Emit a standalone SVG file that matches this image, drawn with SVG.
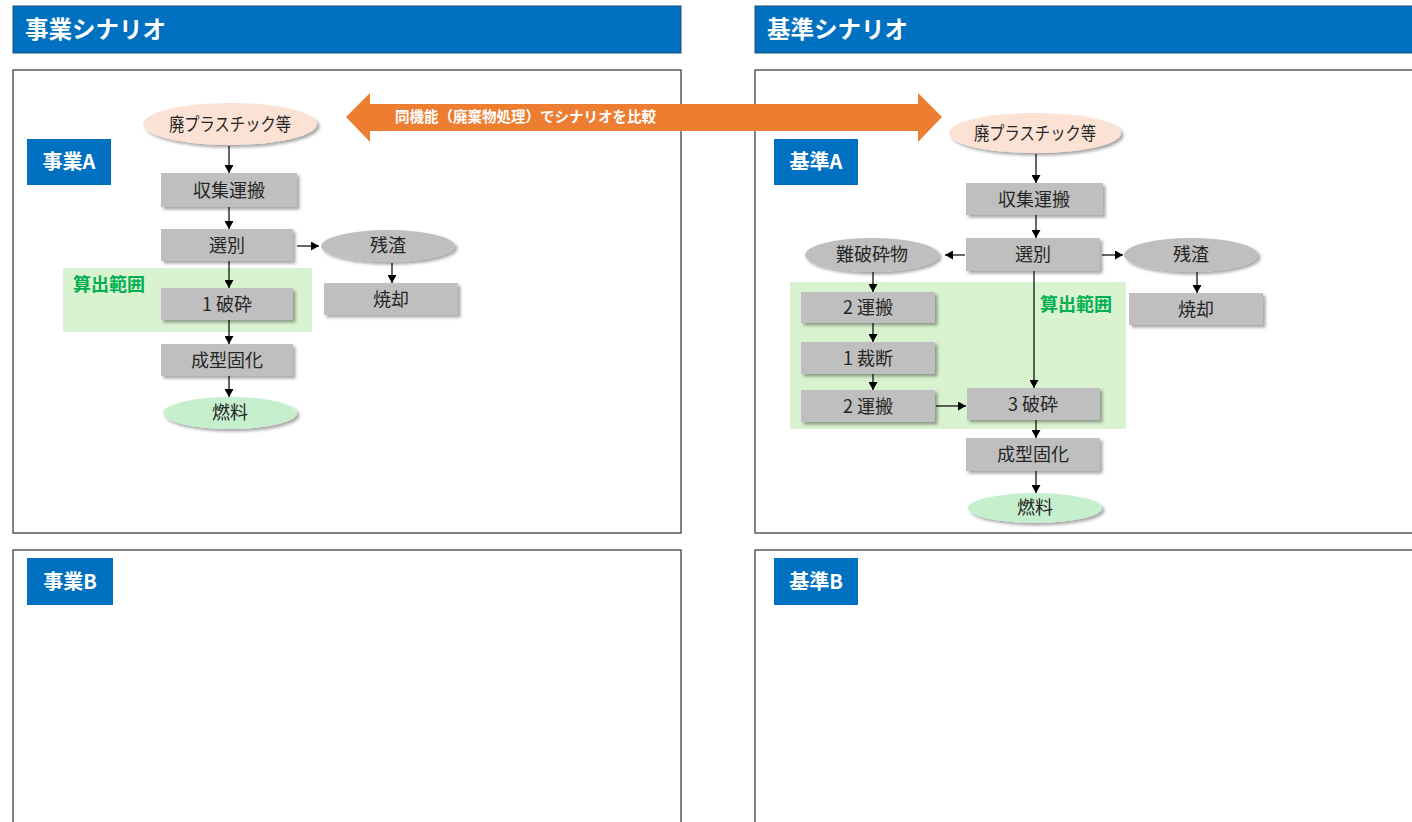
<svg xmlns="http://www.w3.org/2000/svg" width="1412" height="822" viewBox="0 0 1412 822">
<defs>
<style>
.hdr{fill:#0070C0;stroke:#1F4E79;stroke-width:1}
.hdrt{fill:#fff;font-family:"Noto Sans CJK JP","Noto Sans",sans-serif;font-weight:bold;font-size:23.5px}
.panel{fill:#fff;stroke:#404040;stroke-width:1.3}
.lbl{fill:#0070C0}
.lblt{fill:#fff;font-family:"Noto Sans CJK JP","Noto Sans",sans-serif;font-weight:bold;font-size:20px;text-anchor:middle}
.box{fill:#BFBFBF;filter:url(#sh)}
.t{fill:#262626;font-family:"Noto Sans CJK JP","Noto Sans",sans-serif;font-size:18px;text-anchor:middle}
.peach{fill:#FBE2D5;filter:url(#sh)}
.grey{fill:#BFBFBF;filter:url(#sh)}
.gfuel{fill:#C6EFCE;filter:url(#sh)}
.zone{fill:#D9F2D0}
.zt{fill:#00B050;font-family:"Noto Sans CJK JP","Noto Sans",sans-serif;font-weight:bold;font-size:18px}
.c{fill:none;stroke:#000;stroke-width:1.2;marker-end:url(#ah)}
</style>
<filter id="sh" x="-20%" y="-30%" width="150%" height="170%">
<feDropShadow dx="2.5" dy="2.5" stdDeviation="1.8" flood-color="#000" flood-opacity="0.35"/>
</filter>
<marker id="ah" markerUnits="userSpaceOnUse" markerWidth="9" markerHeight="9" refX="8" refY="4.5" orient="auto">
<path d="M0,0 L8,4.5 L0,9 z" fill="#000"/>
</marker>
</defs>
<rect width="1412" height="822" fill="#fff"/>

<g id="header-left"><rect class="hdr" x="13" y="6" width="668" height="47"/><text class="hdrt" x="25" y="38">事業シナリオ</text></g>
<g id="header-right"><rect class="hdr" x="755" y="6" width="700" height="47"/><text class="hdrt" x="767" y="38">基準シナリオ</text></g>

<g id="panel-jigyoA"><rect class="panel" x="13" y="70" width="668" height="463"/></g>
<g id="panel-kijunA"><rect class="panel" x="755" y="70" width="700" height="463"/></g>
<g id="panel-jigyoB"><rect class="panel" x="13" y="550" width="668" height="300"/></g>
<g id="panel-kijunB"><rect class="panel" x="755" y="550" width="700" height="300"/></g>

<g id="label-jigyoA"><rect class="lbl" x="27" y="139" width="84" height="46"/><text class="lblt" x="69" y="169">事業A</text></g>
<g id="label-kijunA"><rect class="lbl" x="774" y="139" width="84" height="46"/><text class="lblt" x="816" y="169">基準A</text></g>
<g id="label-jigyoB"><rect class="lbl" x="27" y="558" width="86" height="47"/><text class="lblt" x="70" y="589">事業B</text></g>
<g id="label-kijunB"><rect class="lbl" x="774" y="558" width="84" height="47"/><text class="lblt" x="816" y="589">基準B</text></g>

<g id="zone-left"><rect class="zone" x="63" y="268" width="249" height="64"/><text class="zt" x="73" y="291">算出範囲</text></g>
<g id="zone-right"><rect class="zone" x="790" y="282" width="336" height="147"/><text class="zt" x="1040" y="311">算出範囲</text></g>

<g id="compare-arrow">
<path d="M346,117 L370,93 L370,104 L918,104 L918,93 L942,117 L918,142 L918,131 L370,131 L370,142 z" fill="#ED7D31"/>
<text x="395" y="122" fill="#fff" font-family="'Noto Sans CJK JP','Noto Sans',sans-serif" font-weight="bold" font-size="14.5">同機能（廃棄物処理）でシナリオを比較</text>
</g>

<g id="connectors">
<path class="c" d="M229,146 V173"/>
<path class="c" d="M229,207 V229"/>
<path class="c" d="M297,246 H319"/>
<path class="c" d="M392,263 V283"/>
<path class="c" d="M229,261 V288"/>
<path class="c" d="M229,320 V344"/>
<path class="c" d="M229,376 V397"/>

<path class="c" d="M1036,154 V183"/>
<path class="c" d="M1036,215 V238"/>
<path class="c" d="M1102,255 H1123"/>
<path class="c" d="M965,255 H945"/>
<path class="c" d="M1197,272 V293"/>
<path class="c" d="M873,272 V292"/>
<path class="c" d="M873,323 V342"/>
<path class="c" d="M873,374 V390"/>
<path class="c" d="M936,406 H966"/>
<path class="c" d="M1034,271 V388"/>
<path class="c" d="M1036,420 V438"/>
<path class="c" d="M1036,471 V493"/>
</g>

<g id="jA-waste"><ellipse class="peach" cx="230" cy="124" rx="87" ry="21"/><text class="t" x="230" y="131" textLength="122" lengthAdjust="spacingAndGlyphs">廃プラスチック等</text></g>
<g id="jA-collect"><rect class="box" x="161" y="173" width="136" height="34"/><text class="t" x="229" y="197">収集運搬</text></g>
<g id="jA-sort"><rect class="box" x="161" y="229" width="132" height="32"/><text class="t" x="227" y="252">選別</text></g>
<g id="jA-residue"><ellipse class="grey" cx="388" cy="246" rx="67" ry="16"/><text class="t" x="388" y="252">残渣</text></g>
<g id="jA-incin"><rect class="box" x="324" y="283" width="134" height="32"/><text class="t" x="391" y="306">焼却</text></g>
<g id="jA-crush"><rect class="box" x="161" y="288" width="132" height="32"/><text class="t" x="227" y="311">1 破砕</text></g>
<g id="jA-mold"><rect class="box" x="161" y="344" width="132" height="32"/><text class="t" x="227" y="367">成型固化</text></g>
<g id="jA-fuel"><ellipse class="gfuel" cx="230" cy="413" rx="67" ry="16"/><text class="t" x="230" y="419">燃料</text></g>

<g id="kA-waste"><ellipse class="peach" cx="1035" cy="133" rx="86" ry="20"/><text class="t" x="1035" y="140" textLength="122" lengthAdjust="spacingAndGlyphs">廃プラスチック等</text></g>
<g id="kA-collect"><rect class="box" x="966" y="183" width="137" height="32"/><text class="t" x="1034" y="206">収集運搬</text></g>
<g id="kA-sort"><rect class="box" x="966" y="238" width="134" height="33"/><text class="t" x="1033" y="261">選別</text></g>
<g id="kA-hard"><ellipse class="grey" cx="872" cy="255" rx="67" ry="17"/><text class="t" x="872" y="261">難破砕物</text></g>
<g id="kA-residue"><ellipse class="grey" cx="1191" cy="255" rx="67" ry="17"/><text class="t" x="1191" y="261">残渣</text></g>
<g id="kA-incin"><rect class="box" x="1129" y="293" width="134" height="32"/><text class="t" x="1196" y="316">焼却</text></g>
<g id="kA-trans1"><rect class="box" x="801" y="292" width="134" height="31"/><text class="t" x="868" y="314">2 運搬</text></g>
<g id="kA-cut"><rect class="box" x="801" y="342" width="134" height="32"/><text class="t" x="868" y="365">1 裁断</text></g>
<g id="kA-trans2"><rect class="box" x="801" y="390" width="134" height="32"/><text class="t" x="868" y="413">2 運搬</text></g>
<g id="kA-crush"><rect class="box" x="967" y="388" width="133" height="32"/><text class="t" x="1033" y="411">3 破砕</text></g>
<g id="kA-mold"><rect class="box" x="966" y="438" width="134" height="33"/><text class="t" x="1033" y="461">成型固化</text></g>
<g id="kA-fuel"><ellipse class="gfuel" cx="1035" cy="508" rx="67" ry="15"/><text class="t" x="1035" y="514">燃料</text></g>
</svg>
